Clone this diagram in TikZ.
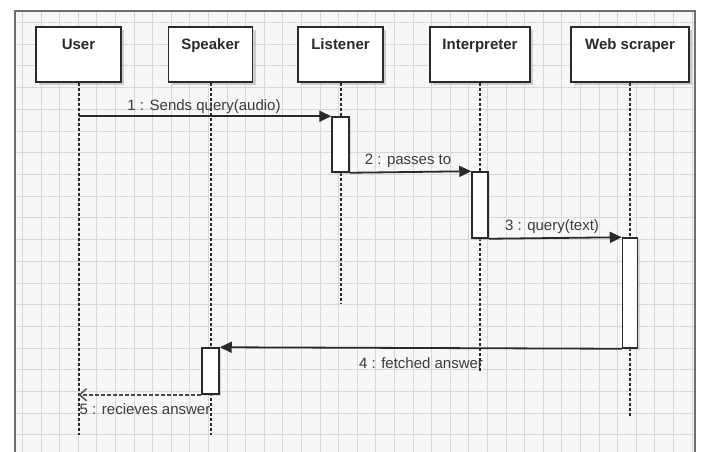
\documentclass[tikz,border=0pt]{standalone}
\usepackage{fontspec}
\setmainfont{Liberation Sans}
\usetikzlibrary{arrows.meta,shadows}
\definecolor{gridc}{HTML}{D8D8D8}
\definecolor{framec}{HTML}{707070}
\definecolor{ink}{HTML}{2A2A2A}
\definecolor{msgtxt}{HTML}{3C3C3C}
\tikzset{
  head/.style={draw=ink, line width=1.8pt, fill=white, minimum height=55pt,
    inner sep=0pt,
    drop shadow={shadow xshift=3pt, shadow yshift=-3pt, fill=black!35, opacity=.5}},
  headtext/.style={font=\bfseries\fontsize{15}{18}\selectfont, text=ink, inner sep=0pt, anchor=base},
  actbox/.style={draw=ink, line width=1.5pt, fill=white, inner sep=0pt,
    drop shadow={shadow xshift=2pt, shadow yshift=-2pt, fill=black!30, opacity=.45}},
  lifeline/.style={draw=ink, line width=2pt, dash pattern=on 3pt off 2pt},
  msg/.style={draw=ink, line width=1.8pt, -{Triangle[length=12pt,width=11pt]}},
  retmsg/.style={draw=ink!85, line width=1.5pt, dash pattern=on 4pt off 2pt,
    -{Straight Barb[length=7pt,width=12pt,line width=1.4pt]}},
  msglabel/.style={font=\fontsize{15}{18}\selectfont, text=msgtxt, inner sep=0pt, anchor=base},
  gridline/.style={draw=gridc, line width=1pt}
}
\begin{document}
\begin{tikzpicture}[x=1pt,y=-1pt]
\useasboundingbox (0,0) rectangle (701,452);
\fill[white] (0,0) rectangle (701,452);
% frame background and grid
\fill[white!97!black] (15,11) rectangle (695,452);
\begin{scope}
  \clip (15,11) rectangle (695,452);
  \foreach \k in {0,...,36} {
    \pgfmathsetmacro{\xx}{22.4+18.6*\k}
    \draw[gridline] (\xx,11) -- (\xx,452);
  }
  \foreach \k in {0,...,19} {
    \pgfmathsetmacro{\yy}{22.6+21.7*\k}
    \draw[gridline] (15,\yy) -- (695,\yy);
  }
\end{scope}
\draw[framec, line width=1.6pt] (15,452) -- (15,11) -- (695,11) -- (695,452);

% header boxes
\node[head, minimum width=85pt] (user) at (78.5,54.5) {};
\node[head, minimum width=84pt] (spk) at (210.5,54.5) {};
\node[head, minimum width=85pt] (lst) at (340.5,54.5) {};
\node[head, minimum width=100pt] (int) at (480,54.5) {};
\node[head, minimum width=118pt] (web) at (630,54.5) {};
\node[headtext] (tuser) at (78.5,50) {User};
\node[headtext] (tspk) at (210.5,50) {Speaker};
\node[headtext] (tlst) at (340.5,50) {Listener};
\node[headtext] (tint) at (480,50) {Interpreter};
\node[headtext] (tweb) at (630,50) {Web scraper};

% lifeline ends
\coordinate (userEnd) at (78.5,435);
\coordinate (spkEnd) at (210.5,435);
\coordinate (lstEnd) at (340.5,303);
\coordinate (intEnd) at (480,372);
\coordinate (webEnd) at (630,417);
\draw[lifeline] (user.south) -- (userEnd);
\draw[lifeline] (spk.south) -- (spkEnd);
\draw[lifeline] (lst.south) -- (lstEnd);
\draw[lifeline] (int.south) -- (intEnd);
\draw[lifeline] (web.south) -- (webEnd);

% activation boxes
\node[actbox, minimum width=17pt, minimum height=55pt] (lstA) at (340.5,144.5) {};
\node[actbox, minimum width=16pt, minimum height=66pt] (intA) at (480,205) {};
\node[actbox, minimum width=15pt, minimum height=110pt] (webA) at (630,293) {};
\node[actbox, minimum width=17pt, minimum height=46pt] (spkA) at (210.5,371) {};

% messages
\draw[msg] (lstA.north west -| user.south) -- (lstA.north west);
\draw[msg] (lstA.south east) -- (intA.north west);
\draw[msg] (intA.south east) -- (webA.north west);
\draw[msg] (webA.south west) -- (spkA.north east);
\draw[retmsg] (spkA.south west) -- (spkA.south west -| user.south);

% message labels
\node[msglabel] (m1) at (204,110) {1 : Sends query(audio)};
\node[msglabel] (m2) at (408,164) {2 : passes to};
\node[msglabel] (m3) at (552,230) {3 : query(text)};
\node[msglabel] (m4) at (421,368) {4 : fetched answer};
\node[msglabel] (m5) at (145,414) {5 : recieves answer};
\end{tikzpicture}
\end{document}
